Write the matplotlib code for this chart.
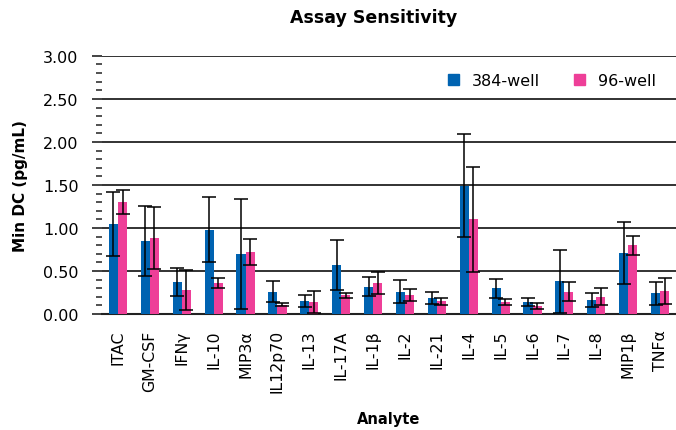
import numpy as np
import matplotlib
matplotlib.use('Agg')
import matplotlib.pyplot as plt
from matplotlib.ticker import MultipleLocator, FormatStrFormatter
from matplotlib.patches import Patch

# データ
analytes = ['ITAC', 'GM-CSF', 'IFNγ', 'IL-10', 'MIP3α', 'IL12p70', 'IL-13', 'IL-17A',
            'IL-1β', 'IL-2', 'IL-21', 'IL-4', 'IL-5', 'IL-6', 'IL-7', 'IL-8', 'MIP1β', 'TNFα']
well384 = [1.05, 0.85, 0.37, 0.98, 0.70, 0.26, 0.15, 0.57, 0.32, 0.26, 0.19, 1.49,
           0.30, 0.14, 0.38, 0.16, 0.71, 0.24]
well384_err = [0.37, 0.41, 0.16, 0.38, 0.64, 0.12, 0.07, 0.29, 0.11, 0.13, 0.07, 0.60,
               0.11, 0.05, 0.37, 0.08, 0.36, 0.13]
well96 = [1.30, 0.88, 0.28, 0.36, 0.72, 0.11, 0.14, 0.22, 0.36, 0.22, 0.15, 1.10,
          0.14, 0.09, 0.26, 0.20, 0.80, 0.27]
well96_err = [0.14, 0.36, 0.23, 0.06, 0.15, 0.02, 0.13, 0.03, 0.13, 0.07, 0.04, 0.61,
              0.03, 0.035, 0.11, 0.10, 0.11, 0.15]

blue = '#0063B1'
pink = '#EE3F98'

fig = plt.figure(figsize=(6.76, 4.31), dpi=100)
ax = fig.add_axes([0.151, 0.269, 0.849, 0.599])

x = np.arange(len(analytes))
w = 0.285
ax.bar(x - w / 2, well384, w, color=blue, zorder=3)
ax.bar(x + w / 2, well96, w, color=pink, zorder=3)
ax.errorbar(x - w / 2, well384, yerr=well384_err, fmt='none', ecolor='black',
            elinewidth=1.1, capsize=5, capthick=1.1, zorder=4)
ax.errorbar(x + w / 2, well96, yerr=well96_err, fmt='none', ecolor='black',
            elinewidth=1.1, capsize=5, capthick=1.1, zorder=4)

ax.set_xlim(-0.5, len(analytes) - 0.5)
ax.set_ylim(0, 3.0)
ax.yaxis.set_major_locator(MultipleLocator(0.5))
ax.yaxis.set_minor_locator(MultipleLocator(0.1))
ax.yaxis.set_major_formatter(FormatStrFormatter('%.2f'))
ax.grid(axis='y', color='#222222', linewidth=1.3, zorder=0)
ax.set_axisbelow(True)

for s in ['top', 'right', 'left']:
    ax.spines[s].set_visible(False)
ax.spines['bottom'].set_color('#222222')
ax.spines['bottom'].set_linewidth(1.5)

ax.set_xticks(x)
ax.set_xticklabels(analytes, rotation=90, fontsize=11.3)
ax.tick_params(axis='x', length=0, pad=11)
ax.tick_params(axis='y', which='major', length=7, width=1.2, labelsize=11.5, pad=10, color='#222222')
ax.tick_params(axis='y', which='minor', length=4, width=1.2, color='#333333')

ax.set_ylabel('Min DC (pg/mL)', fontsize=11, fontweight='bold', labelpad=11)
ax.set_xlabel('Analyte', fontsize=10.5, fontweight='bold', labelpad=13)
fig.text(0.552, 0.958, 'Assay Sensitivity', ha='center', va='center',
         fontsize=12.5, fontweight='bold')

handles = [Patch(color=blue, label='384-well'), Patch(color=pink, label='96-well')]
ax.legend(handles=handles, ncol=2, frameon=False, fontsize=11.5, loc='upper right',
          bbox_to_anchor=(0.99, 0.99), handlelength=0.7, handleheight=0.7,
          columnspacing=2.1, handletextpad=0.8)

plt.savefig('out.png', dpi=100)
